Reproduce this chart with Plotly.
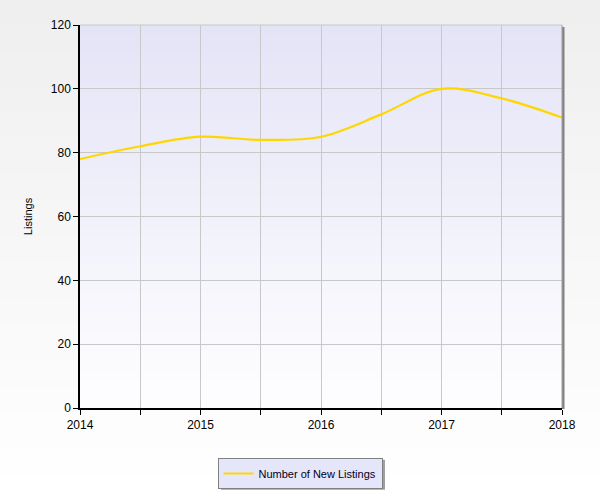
import plotly.graph_objects as go

# Data
periods = [2014.0, 2014.5, 2015.0, 2015.5, 2016.0, 2016.5, 2017.0, 2017.5, 2018.0]
new_listings = [78, 82, 85, 84, 85, 92, 100, 97, 91]
year_ticks = [2014, 2014.5, 2015, 2015.5, 2016, 2016.5, 2017, 2017.5, 2018]
year_labels = ["2014", "", "2015", "", "2016", "", "2017", "", "2018"]
series_name = "Number of New Listings"

W, H = 600, 500
ML, MR, MT, MB = 80, 38, 25, 91
PW, PH = W - ML - MR, H - MT - MB

def px_x(p):
    return (p - ML) / PW

def px_y(p):
    return (H - MB - p) / PH

def lerp(c1, c2, t):
    return "rgb(%d,%d,%d)" % tuple(round(a + (b - a) * t) for a, b in zip(c1, c2))

shapes = []
# paper gradient (overlapping strips, each to the bottom, to avoid seams)
n = 40
for i in range(n):
    y0 = i * H / n
    shapes.append(dict(type="rect", xref="paper", yref="paper", layer="below",
                       x0=px_x(0), x1=px_x(W), y0=px_y(y0), y1=px_y(H),
                       fillcolor=lerp((239, 239, 239), (255, 255, 255), i / (n - 1)),
                       line=dict(width=0)))
# plot area shadow
shapes.append(dict(type="rect", xref="paper", yref="paper", layer="below",
                   x0=px_x(ML + 2), x1=px_x(ML + PW + 2.5), y0=px_y(MT + 2), y1=px_y(MT + PH + 1),
                   fillcolor="rgb(130,130,130)", line=dict(width=0)))
# plot area gradient
for i in range(n):
    y0 = MT + i * PH / n
    shapes.append(dict(type="rect", xref="paper", yref="paper", layer="below",
                       x0=0, x1=1, y0=px_y(y0), y1=0,
                       fillcolor=lerp((228, 228, 247), (254, 254, 255), i / (n - 1)),
                       line=dict(width=0)))
# top/right border
shapes.append(dict(type="line", xref="paper", yref="paper", x0=0, x1=1, y0=1, y1=1,
                   line=dict(color="#c8c8c8", width=1)))
shapes.append(dict(type="line", xref="paper", yref="paper", x0=1, x1=1, y0=0, y1=1,
                   line=dict(color="#a0a0a0", width=1)))
# legend shadow
shapes.append(dict(type="rect", xref="paper", yref="paper", layer="below",
                   x0=px_x(221), x1=px_x(385), y0=px_y(461), y1=px_y(491),
                   fillcolor="rgb(160,160,160)", line=dict(width=0)))

fig = go.Figure()
fig.add_trace(go.Scatter(
    x=periods, y=new_listings, name=series_name, mode="lines",
    line=dict(color="#ffd700", width=2.2, shape="spline", smoothing=1),
))

fig.update_layout(
    width=W, height=H,
    margin=dict(l=ML, r=MR, t=MT, b=MB),
    paper_bgcolor="#ffffff",
    plot_bgcolor="rgba(0,0,0,0)",
    font=dict(family="Liberation Sans, Arial, sans-serif", size=12, color="#000000"),
    shapes=shapes,
    showlegend=True,
    legend=dict(orientation="h", x=px_x(300), xanchor="center", y=px_y(458), yanchor="top",
                bgcolor="#e6e6fa", bordercolor="#808080", borderwidth=1,
                font=dict(size=11, color="#000020"), itemwidth=30),
    xaxis=dict(range=[2014, 2018], tickmode="array", tickvals=year_ticks, ticktext=year_labels,
               showgrid=True, gridcolor="#c8c8c8", gridwidth=1,
               showline=True, linecolor="#000000", linewidth=1.5,
               ticks="outside", ticklen=5, tickcolor="#000000",
               zeroline=False, tickfont=dict(size=12)),
    yaxis=dict(range=[0, 120], dtick=20, tick0=0,
               showgrid=True, gridcolor="#c8c8c8", gridwidth=1,
               showline=True, linecolor="#000000", linewidth=1.5,
               ticks="outside", ticklen=5, tickcolor="#000000",
               zeroline=False, tickfont=dict(size=12),
               title=dict(text="Listings", font=dict(size=11), standoff=16)),
)

fig.write_html("out.html", config={"displayModeBar": False},
               post_script="document.body.style.margin='0';")
